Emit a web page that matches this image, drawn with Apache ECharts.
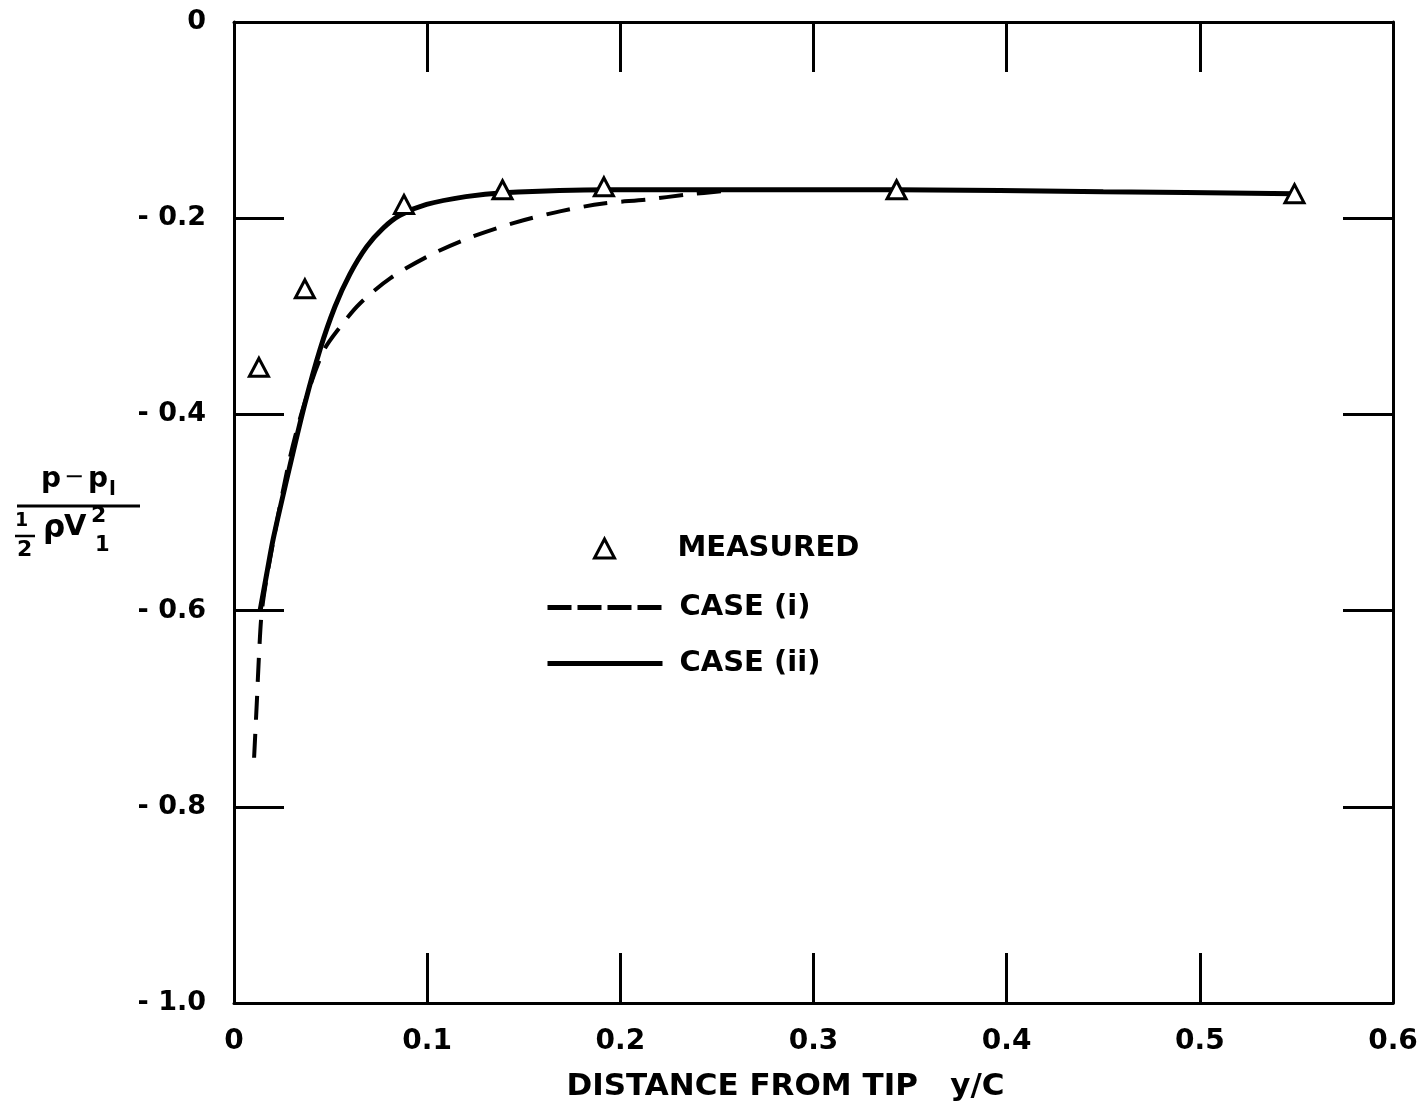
<!DOCTYPE html>
<html>
<head>
<meta charset="utf-8">
<script src="https://cdn.jsdelivr.net/npm/echarts@6/dist/echarts.min.js"></script>
<style>
  html, body { margin: 0; padding: 0; background: #fff; }
  #main { width: 1426px; height: 1114px; }
</style>
</head>
<body>
<div id="main"></div>
<script>
// measured points [y/C, Cp]
var measured = [
  [0.0129, -0.352], [0.0367, -0.272], [0.088, -0.186], [0.139, -0.171],
  [0.1915, -0.168], [0.343, -0.171], [0.549, -0.175]
];
// case (i) - dashed curve
var caseOne = [
  [0.0104, -0.750], [0.0119, -0.690], [0.0129, -0.647], [0.0145, -0.599],
  [0.0186, -0.548], [0.0283, -0.450], [0.036, -0.392], [0.0462, -0.336],
  [0.0549, -0.311], [0.0652, -0.287], [0.081, -0.261], [0.1032, -0.236],
  [0.1232, -0.219], [0.1446, -0.205], [0.1687, -0.193], [0.1912, -0.185],
  [0.2136, -0.181], [0.2343, -0.176], [0.255, -0.172]
];
// case (ii) - solid curve
var caseTwo = [
  [0.0135, -0.600], [0.0170, -0.562], [0.0204, -0.526], [0.0290, -0.452],
  [0.0367, -0.389], [0.0445, -0.334], [0.0523, -0.290], [0.0600, -0.257],
  [0.0687, -0.229], [0.0773, -0.210], [0.0859, -0.197], [0.0997, -0.186],
  [0.1200, -0.178], [0.1394, -0.174], [0.193, -0.171], [0.283, -0.171],
  [0.343, -0.171], [0.45, -0.173], [0.549, -0.175]
];
var seriesNames = ['MEASURED', 'CASE (i)', 'CASE (ii)'];

var font = 'DejaVu Sans';
var myChart = echarts.init(document.getElementById('main'));

function yLabel(v) {
  if (v === 0) return '0';
  return '- ' + Math.abs(v).toFixed(1);
}

var frameAxis = {
  axisLine: { show: true, onZero: false, lineStyle: { color: '#000', width: 3 } },
  axisTick: { show: true, inside: true, length: 50, lineStyle: { color: '#000', width: 3 } },
  splitLine: { show: false }
};

function txt(s, x, y, size, weight) {
  return { type: 'text', x: x, y: y, style: { text: s, fontFamily: font, fontWeight: weight || 'bold', fontSize: size, fill: '#000' } };
}

var legendText = { fontFamily: font, fontWeight: 'bold', fontSize: 29, color: '#000' };

var option = {
  backgroundColor: '#fff',
  animation: false,
  grid: { left: 234, top: 22, right: 33, bottom: 111, containLabel: false },
  legend: [
    {
      // triangle marker on its own so it keeps its shape
      orient: 'vertical',
      left: 588,
      top: 529,
      itemWidth: 20,
      itemHeight: 19,
      textStyle: Object.assign({ padding: [0, 0, 0, 58] }, legendText),
      data: [
        { name: seriesNames[0], icon: 'triangle',
          itemStyle: { color: '#fff', borderColor: '#000', borderWidth: 3 } }
      ]
    },
    {
      orient: 'vertical',
      left: 540,
      top: 588,
      itemWidth: 115,
      itemHeight: 20,
      itemGap: 27,
      textStyle: Object.assign({ padding: [0, 0, 0, 12] }, legendText),
      data: [
        { name: seriesNames[1], itemStyle: { opacity: 0 },
          lineStyle: { color: '#000', width: 5, type: [24, 6] } },
        { name: seriesNames[2], itemStyle: { opacity: 0 },
          lineStyle: { color: '#000', width: 5, type: 'solid' } }
      ]
    }
  ],
  xAxis: [
    Object.assign({}, frameAxis, {
      type: 'value', min: 0, max: 0.6, interval: 0.1, position: 'bottom',
      name: 'DISTANCE FROM TIP   y/C',
      nameLocation: 'middle',
      nameGap: 68,
      nameTextStyle: { fontFamily: font, fontWeight: 'bold', fontSize: 31, color: '#000', padding: [0, 56, 0, 0] },
      axisLabel: {
        fontFamily: font, fontWeight: 'bold', fontSize: 28, color: '#000', margin: 25,
        formatter: function (v) { return v === 0 ? '0' : v.toFixed(1); }
      }
    }),
    Object.assign({}, frameAxis, {
      type: 'value', min: 0, max: 0.6, interval: 0.1, position: 'top',
      axisLabel: { show: false }
    })
  ],
  yAxis: [
    Object.assign({}, frameAxis, {
      type: 'value', min: -1, max: 0, interval: 0.2, position: 'left',
      axisLabel: {
        fontFamily: font, fontWeight: 'bold', fontSize: 27, color: '#000', margin: 28,
        formatter: yLabel
      }
    }),
    Object.assign({}, frameAxis, {
      type: 'value', min: -1, max: 0, interval: 0.2, position: 'right',
      axisLabel: { show: false }
    })
  ],
  graphic: [
    txt('p', 41, 466, 28),
    txt('−', 64, 466, 24, 'normal'),
    txt('p', 88, 466, 28),
    txt('l', 109, 480, 20),
    { type: 'line', shape: { x1: 17, y1: 506, x2: 140, y2: 506 }, style: { stroke: '#000', lineWidth: 3 } },
    txt('1', 15, 512, 19),
    { type: 'line', shape: { x1: 15, y1: 536, x2: 35, y2: 536 }, style: { stroke: '#000', lineWidth: 2.5 } },
    txt('2', 17, 539, 22),
    txt('ρ', 43, 513, 31),
    txt('V', 64, 513, 29),
    txt('2', 91, 505, 22),
    txt('1', 95, 535, 21)
  ],
  series: [
    {
      name: seriesNames[0],
      type: 'scatter',
      data: measured,
      symbol: 'triangle',
      symbolSize: [19, 18],
      itemStyle: { color: '#fff', borderColor: '#000', borderWidth: 3, opacity: 1 },
      z: 5
    },
    {
      name: seriesNames[1],
      type: 'line',
      data: caseOne,
      smooth: 0.3,
      showSymbol: false,
      symbol: 'none',
      itemStyle: { color: '#000' },
      lineStyle: { color: '#000', width: 4, type: [24, 14] }
    },
    {
      name: seriesNames[2],
      type: 'line',
      data: caseTwo,
      smooth: 0.3,
      showSymbol: false,
      symbol: 'none',
      itemStyle: { color: '#000' },
      lineStyle: { color: '#000', width: 5, type: 'solid' }
    }
  ]
};

option && myChart.setOption(option);
</script>
</body>
</html>
